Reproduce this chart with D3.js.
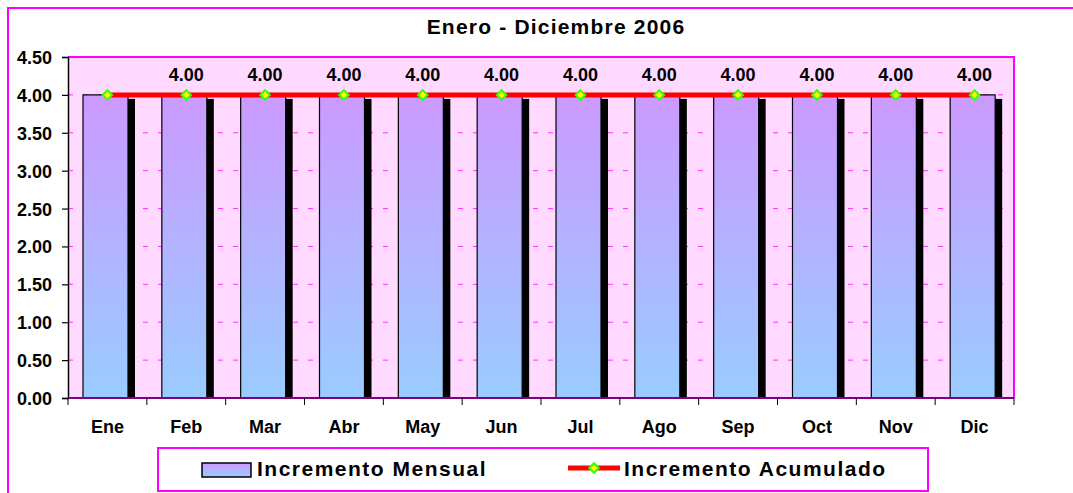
<!DOCTYPE html>
<html><head><meta charset="utf-8">
<script src="https://d3js.org/d3.v7.min.js"></script>
<style>body{margin:0;background:#fff}svg{display:block}text{font-family:Arial,"Liberation Sans",sans-serif;font-weight:bold}</style>
</head><body><svg id="c" width="1073" height="493"></svg>
<script>
const categories = ["Ene","Feb","Mar","Abr","May","Jun","Jul","Ago","Sep","Oct","Nov","Dic"];
const mensual = [4.00,4.00,4.00,4.00,4.00,4.00,4.00,4.00,4.00,4.00,4.00,4.00];
const acumulado = [4.00,4.00,4.00,4.00,4.00,4.00,4.00,4.00,4.00,4.00,4.00,4.00];
const yTicks = [0,0.5,1,1.5,2,2.5,3,3.5,4,4.5];
const title = "Enero - Diciembre 2006";
const seriesNames = ["Incremento Mensual","Incremento Acumulado"];

const svg = d3.select("#c");
const L=68,R=1014,T=57,B=398;
const x = d3.scaleBand().domain(categories).range([L,R]).paddingInner(0).paddingOuter(0);
const y = d3.scaleLinear().domain([0,4.5]).range([B,T]);

const defs = svg.append("defs");
const g = defs.append("linearGradient").attr("id","bg").attr("x1",0).attr("y1",0).attr("x2",0).attr("y2",1);
g.append("stop").attr("offset","0%").attr("stop-color","#CC99FF");
g.append("stop").attr("offset","100%").attr("stop-color","#99CCFF");

// outer border
svg.append("rect").attr("x",8).attr("y",8).attr("width",1100).attr("height",520).attr("fill","#fff").attr("stroke","#FF00FF").attr("stroke-width",2);

// title
svg.append("text").attr("x",556).attr("y",34).attr("text-anchor","middle").attr("font-size",21).attr("letter-spacing","1.2px").text(title);

// plot bg
svg.append("rect").attr("x",L).attr("y",T).attr("width",R-L).attr("height",B-T).attr("fill","#FFD9FF");

// grid
svg.append("g").selectAll("line").data(yTicks.filter(d=>d>0&&d<4.5)).join("line")
  .attr("x1",L).attr("x2",R).attr("y1",d=>y(d)).attr("y2",d=>y(d))
  .attr("stroke","#FF33FF").attr("stroke-width",1).attr("stroke-dasharray","5,10");

// plot border top/right
svg.append("path").attr("d",`M${L},${T}H${R}V${B}`).attr("fill","none").attr("stroke","#FF00FF").attr("stroke-width",2);

const bw = 45, off = 15;
// shadows
svg.append("g").selectAll("rect").data(mensual).join("rect")
  .attr("x",(d,i)=>x(categories[i])+off+7).attr("y",d=>y(d)+4)
  .attr("width",bw).attr("height",d=>B-y(d)-4).attr("fill","#000");
// bars
svg.append("g").selectAll("rect").data(mensual).join("rect")
  .attr("x",(d,i)=>x(categories[i])+off).attr("y",d=>y(d))
  .attr("width",bw).attr("height",d=>B-y(d)).attr("fill","url(#bg)").attr("stroke","#000").attr("stroke-width",1.2);

// axes
const ya = d3.axisLeft(y).tickValues(yTicks).tickFormat(d3.format(".2f")).tickSize(6).tickPadding(10);
const yg = svg.append("g").attr("transform",`translate(${L},0)`).call(ya);
yg.select(".domain").attr("stroke","#000").attr("stroke-width",1.5);
yg.selectAll(".tick line").attr("stroke","#000").attr("stroke-width",1.2);
yg.selectAll("text").attr("font-size",18).attr("font-family","Arial, 'Liberation Sans', sans-serif").attr("font-weight","bold").attr("fill","#000").attr("dy","0.36em");

const xg = svg.append("g").attr("transform",`translate(0,${B})`);
xg.append("line").attr("x1",L).attr("x2",R).attr("y1",0).attr("y2",0).attr("stroke","#800080").attr("stroke-width",2);
xg.selectAll("line.t").data(d3.range(categories.length+1)).join("line").attr("class","t")
  .attr("x1",i=>L+i*x.bandwidth()).attr("x2",i=>L+i*x.bandwidth()).attr("y1",0).attr("y2",7).attr("stroke","#000").attr("stroke-width",1);
xg.selectAll("text").data(categories).join("text")
  .attr("x",d=>x(d)+x.bandwidth()/2).attr("y",35).attr("text-anchor","middle").attr("font-size",18).text(d=>d);

// line
const line = d3.line().x((d,i)=>x(categories[i])+x.bandwidth()/2).y(d=>y(d));
svg.append("path").datum(acumulado).attr("d",line).attr("fill","none").attr("stroke","#FF0000").attr("stroke-width",5);
svg.append("g").selectAll("path").data(acumulado).join("path")
  .attr("d",d3.symbol().type(d3.symbolSquare).size(45)).attr("transform",(d,i)=>`translate(${x(categories[i])+x.bandwidth()/2},${y(d)}) rotate(45)`)
  .attr("fill","#FFFF00").attr("stroke","#33FF00").attr("stroke-width",2);

// data labels (not for first)
svg.append("g").selectAll("text").data(acumulado).join("text")
  .filter((d,i)=>i>0)
  .attr("x",(d,i)=>x(categories[i+1])+x.bandwidth()/2).attr("y",d=>y(d)-14)
  .attr("text-anchor","middle").attr("font-size",18).text(d=>d.toFixed(2));

// legend
const lg = svg.append("g");
lg.append("rect").attr("x",158).attr("y",448).attr("width",770).attr("height",43).attr("fill","#fff").attr("stroke","#FF00FF").attr("stroke-width",2);
lg.append("rect").attr("x",202).attr("y",463).attr("width",49).attr("height",14).attr("fill","url(#bg)").attr("stroke","#000").attr("stroke-width",1.5);
lg.append("text").attr("x",257).attr("y",476).attr("font-size",21).attr("letter-spacing","1.5px").text(seriesNames[0]);
lg.append("line").attr("x1",568).attr("x2",620).attr("y1",468).attr("y2",468).attr("stroke","#FF0000").attr("stroke-width",5);
lg.append("path").attr("d",d3.symbol().type(d3.symbolSquare).size(45)).attr("transform","translate(594,468) rotate(45)")
  .attr("fill","#FFFF00").attr("stroke","#33FF00").attr("stroke-width",2);
lg.append("text").attr("x",624).attr("y",476).attr("font-size",21).attr("letter-spacing","1.5px").text(seriesNames[1]);
</script></body></html>
